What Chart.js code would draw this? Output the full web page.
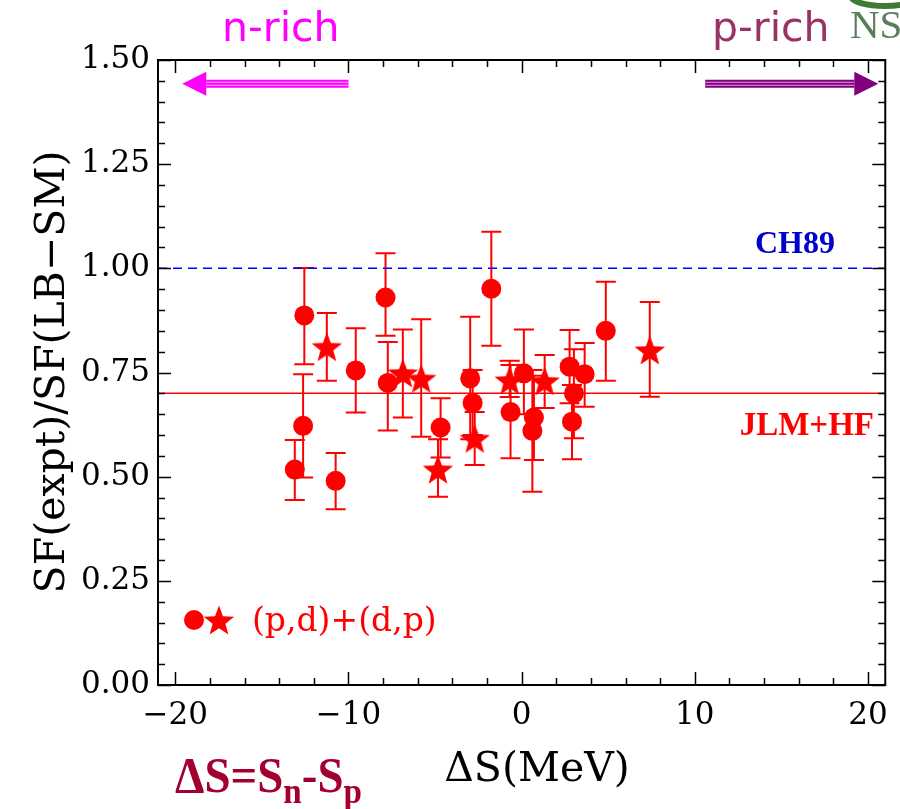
<!DOCTYPE html>
<html>
<head>
<meta charset="utf-8">
<script src="https://cdn.jsdelivr.net/npm/chart.js@4"></script>
<style>
  html, body { margin: 0; padding: 0; background: #fff; }
  canvas { display: block; }
</style>
</head>
<body>
<canvas id="sfChart" width="900" height="809"></canvas>
<script>
// circles (x = ΔS, y = SF ratio, hi/lo = ends of error bar)
const circleX  = [-13.1, -12.55, -12.62, -10.74, -9.58, -7.86, -7.73, -4.68, -2.97, -2.83, -1.75, -0.64, 0.13, 0.71, 0.62, 2.77, 3.64, 3.02, 2.91, 4.86];
const circleY  = [0.517, 0.887, 0.622, 0.490, 0.755, 0.930, 0.725, 0.618, 0.736, 0.677, 0.951, 0.655, 0.748, 0.642, 0.610, 0.764, 0.746, 0.700, 0.632, 0.850];
const circleHi = [0.588, 1.001, 0.746, 0.557, 0.856, 1.036, 0.823, 0.688, 0.884, 0.756, 1.088, 0.768, 0.853, 0.742, 0.756, 0.852, 0.821, 0.806, 0.720, 0.968];
const circleLo = [0.444, 0.770, 0.498, 0.422, 0.654, 0.838, 0.611, 0.546, 0.590, 0.600, 0.814, 0.544, 0.650, 0.540, 0.464, 0.676, 0.668, 0.592, 0.542, 0.730];

// stars
const starX  = [-11.25, -6.86, -5.80, -4.83, -2.71, -0.69, 1.33, 7.40];
const starY  = [0.812, 0.749, 0.736, 0.518, 0.592, 0.732, 0.730, 0.804];
const starHi = [0.893, 0.853, 0.878, 0.590, 0.655, 0.778, 0.792, 0.919];
const starLo = [0.730, 0.642, 0.596, 0.452, 0.528, 0.691, 0.665, 0.692];

// reference lines
const ch89Value = 1.00;
const jlmValue = 0.70;

const xRange = [-21, 21];
const yRange = [0, 1.5];
const xTicks = [-20, -10, 0, 10, 20];
const yTicks = [0, 0.25, 0.5, 0.75, 1.0, 1.25, 1.5];

const RED = '#ff0000';
const serif = 'DejaVu Serif';

function makeStar(r, color) {
  const c = document.createElement('canvas');
  const s = Math.ceil(r * 2 + 2);
  c.width = s; c.height = s;
  const g = c.getContext('2d');
  g.fillStyle = color;
  g.beginPath();
  for (let i = 0; i < 10; i++) {
    const rad = i % 2 === 0 ? r : r * 0.42;
    const a = -Math.PI / 2 + i * Math.PI / 5;
    const px = s / 2 + rad * Math.cos(a);
    const py = s / 2 + r * 0.1 + rad * Math.sin(a);
    i === 0 ? g.moveTo(px, py) : g.lineTo(px, py);
  }
  g.closePath();
  g.fill();
  return c;
}
const starImg = makeStar(16, RED);

function pts(xs, ys) {
  return xs.map((x, i) => ({ x: x, y: ys[i] }));
}

const errorBars = {
  id: 'errorBars',
  beforeDatasetsDraw(chart) {
    const ctx = chart.ctx;
    const xs = chart.scales.x, ys = chart.scales.y;
    ctx.save();
    ctx.strokeStyle = RED;
    ctx.lineWidth = 2;
    const draw = (X, H, L) => {
      X.forEach((x, i) => {
        const px = xs.getPixelForValue(x);
        const top = ys.getPixelForValue(H[i]);
        const bot = ys.getPixelForValue(L[i]);
        ctx.beginPath();
        ctx.moveTo(px, top); ctx.lineTo(px, bot);
        ctx.moveTo(px - 10, top); ctx.lineTo(px + 10, top);
        ctx.moveTo(px - 10, bot); ctx.lineTo(px + 10, bot);
        ctx.stroke();
      });
    };
    draw(circleX, circleHi, circleLo);
    draw(starX, starHi, starLo);
    ctx.restore();
  }
};

function arrow(ctx, x0, x1, y, color, light) {
  // x0 = tail, x1 = tip
  const dir = x1 > x0 ? 1 : -1;
  const headLen = 24;
  const base = x1 - dir * headLen;
  ctx.fillStyle = color;
  ctx.fillRect(Math.min(x0, base), y - 4, Math.abs(base - x0), 8);
  ctx.strokeStyle = light;
  ctx.lineWidth = 1;
  ctx.beginPath();
  ctx.moveTo(Math.min(x0, base), y - 1.5); ctx.lineTo(Math.max(x0, base), y - 1.5);
  ctx.moveTo(Math.min(x0, base), y + 1.5); ctx.lineTo(Math.max(x0, base), y + 1.5);
  ctx.stroke();
  ctx.beginPath();
  ctx.moveTo(x1, y);
  ctx.lineTo(base, y - 12);
  ctx.lineTo(base, y + 12);
  ctx.closePath();
  ctx.fill();
}

const decorations = {
  id: 'decorations',
  afterDraw(chart) {
    const ctx = chart.ctx;
    const a = chart.chartArea;
    const xs = chart.scales.x, ys = chart.scales.y;
    ctx.save();

    // frame with inward ticks
    ctx.strokeStyle = '#000';
    ctx.lineWidth = 2;
    ctx.strokeRect(a.left, a.top, a.right - a.left, a.bottom - a.top);
    ctx.lineWidth = 1.5;
    ctx.beginPath();
    for (let v = -20; v <= 20; v += 2) {
      const px = Math.round(xs.getPixelForValue(v)) + 0.5;
      const len = v % 10 === 0 ? 13 : 7;
      ctx.moveTo(px, a.bottom); ctx.lineTo(px, a.bottom - len);
      ctx.moveTo(px, a.top); ctx.lineTo(px, a.top + len);
    }
    for (let k = 0; k <= 30; k++) {
      const v = k * 0.05;
      const py = Math.round(ys.getPixelForValue(v)) + 0.5;
      const len = k % 5 === 0 ? 13 : 7;
      ctx.moveTo(a.left, py); ctx.lineTo(a.left + len, py);
      ctx.moveTo(a.right, py); ctx.lineTo(a.right - len, py);
    }
    ctx.stroke();

    // arrows
    const ay = ys.getPixelForValue(1.443);
    arrow(ctx, xs.getPixelForValue(-10), xs.getPixelForValue(-19.6), ay, '#ff00ff', '#ffb0ff');
    arrow(ctx, xs.getPixelForValue(10.6), xs.getPixelForValue(20.6), ay, '#800080', '#e0a0e0');

    // top labels
    ctx.textBaseline = 'alphabetic';
    ctx.textAlign = 'left';
    ctx.font = '41px "DejaVu Sans"';
    ctx.fillStyle = '#ff00ff';
    ctx.fillText('n-rich', 222, 41);
    ctx.fillStyle = '#993366';
    ctx.fillText('p-rich', 712, 41);
    // corner logo fragment
    ctx.strokeStyle = '#3f7a35';
    ctx.lineWidth = 6;
    ctx.beginPath();
    ctx.ellipse(885, -4, 34, 10, 0, 0, Math.PI);
    ctx.stroke();
    ctx.font = '41px "Liberation Serif"';
    ctx.fillStyle = '#5b7d5b';
    ctx.fillText('NS', 850, 38);

    // line labels
    ctx.font = 'bold 32px "Liberation Serif"';
    ctx.fillStyle = '#0000cc';
    ctx.textAlign = 'right';
    ctx.fillText('CH89', 835, 253);
    ctx.fillStyle = RED;
    ctx.font = 'bold 33px "Liberation Serif"';
    ctx.fillText('JLM+HF', 874, 435);

    // legend
    ctx.beginPath();
    ctx.arc(194, 620, 10, 0, Math.PI * 2);
    ctx.fill();
    ctx.drawImage(starImg, 219 - starImg.width / 2, 620 - starImg.height / 2);
    ctx.textAlign = 'left';
    ctx.textBaseline = 'middle';
    ctx.font = '33px "' + serif + '"';
    ctx.fillText('(p,d)+(d,p)', 252, 622);

    // axis titles
    ctx.fillStyle = '#000';
    ctx.font = '41px "' + serif + '"';
    ctx.textAlign = 'center';
    ctx.textBaseline = 'middle';
    ctx.fillText('ΔS(MeV)', 537, 770);
    ctx.save();
    ctx.translate(53, 372);
    ctx.rotate(-Math.PI / 2);
    ctx.fillText('SF(expt)/SF(LB\u2212SM)', 0, 0);
    ctx.restore();

    // ΔS = Sn - Sp
    ctx.fillStyle = '#a3002f';
    ctx.textAlign = 'left';
    ctx.textBaseline = 'alphabetic';
    ctx.save();
    ctx.translate(175, 792);
    ctx.scale(0.92, 1);
    let x = 0;
    const big = 'bold 51px "Liberation Serif"';
    const small = 'bold 36px "Liberation Serif"';
    const part = (t, f, dy) => {
      ctx.font = f;
      ctx.fillText(t, x, dy);
      x += ctx.measureText(t).width;
    };
    part('ΔS=S', big, 0);
    part('n', small, 11);
    part('-S', big, 0);
    part('p', small, 11);
    ctx.restore();

    ctx.restore();
  }
};

new Chart(document.getElementById('sfChart'), {
  type: 'scatter',
  data: {
    datasets: [
      {
        label: 'CH89',
        type: 'line',
        data: [{ x: xRange[0], y: ch89Value }, { x: xRange[1], y: ch89Value }],
        borderColor: '#0000ff',
        borderWidth: 1.5,
        borderDash: [9, 6],
        pointRadius: 0,
        order: 3
      },
      {
        label: 'JLM+HF',
        type: 'line',
        data: [{ x: xRange[0], y: jlmValue }, { x: xRange[1], y: jlmValue }],
        borderColor: RED,
        borderWidth: 1.5,
        pointRadius: 0,
        order: 3
      },
      {
        label: 'circles',
        data: pts(circleX, circleY),
        pointStyle: 'circle',
        pointRadius: 10,
        backgroundColor: RED,
        borderColor: RED,
        borderWidth: 0,
        order: 1
      },
      {
        label: 'stars',
        data: pts(starX, starY),
        pointStyle: starImg,
        backgroundColor: RED,
        borderColor: RED,
        order: 2
      }
    ]
  },
  options: {
    responsive: false,
    animation: false,
    layout: { padding: { top: 60, right: 14, left: 0, bottom: 0 } },
    plugins: {
      legend: { display: false },
      tooltip: { enabled: false }
    },
    scales: {
      x: {
        type: 'linear',
        min: xRange[0],
        max: xRange[1],
        grid: { display: false, drawTicks: false },
        border: { display: false },
        afterBuildTicks: s => { s.ticks = xTicks.map(v => ({ value: v })); },
        afterFit: s => { s.height = 124; },
        ticks: {
          padding: 12,
          color: '#000',
          font: { family: serif, size: 31 },
          callback: v => String(v).replace('-', '\u2212')
        }
      },
      y: {
        min: yRange[0],
        max: yRange[1],
        grid: { display: false, drawTicks: false },
        border: { display: false },
        afterBuildTicks: s => { s.ticks = yTicks.map(v => ({ value: v })); },
        afterFit: s => { s.width = 158; },
        ticks: {
          padding: 8,
          color: '#000',
          font: { family: serif, size: 31 },
          callback: v => v.toFixed(2)
        }
      }
    }
  },
  plugins: [errorBars, decorations]
});
</script>
</body>
</html>
